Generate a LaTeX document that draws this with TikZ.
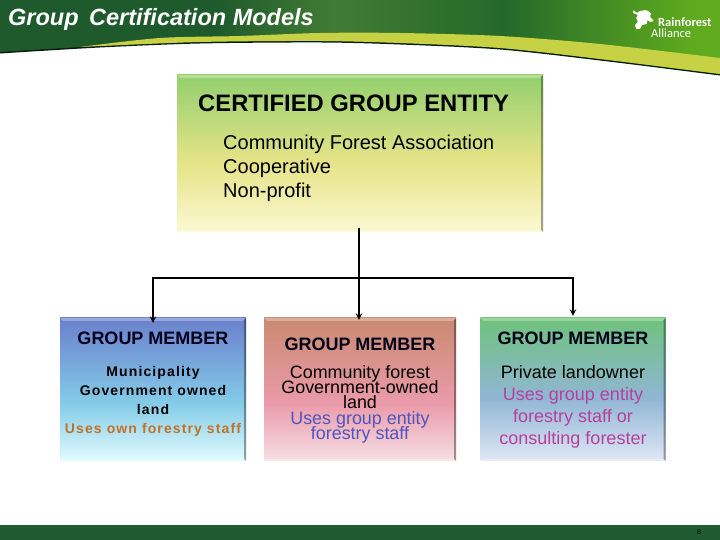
\documentclass[tikz,border=0pt]{standalone}
\usepackage{fontspec}
\setmainfont{Liberation Sans}
\newfontfamily\logofont{Carlito}
\usetikzlibrary{arrows, calc}
\normallineskiplimit=-10pt
\lineskiplimit=-10pt

\definecolor{hdrdark}{HTML}{1F5A2C}
\definecolor{hdrmid}{HTML}{417C34}
\definecolor{hdrdeep}{HTML}{25692A}
\definecolor{hdrlight}{HTML}{5FAA1E}
\definecolor{swoosh}{HTML}{C6D143}
\definecolor{barcol}{HTML}{1F5A30}
\definecolor{entitytop}{HTML}{93CF6E}
\definecolor{entitymid}{HTML}{E6E488}
\definecolor{entitybot}{HTML}{FBF8D2}
\definecolor{bluetop}{HTML}{6A80CC}
\definecolor{bluemid}{HTML}{84CCE8}
\definecolor{bluebot}{HTML}{E2FBFD}
\definecolor{pinktop}{HTML}{C98A70}
\definecolor{pinkmid}{HTML}{EA9BAA}
\definecolor{pinkbot}{HTML}{F6DFE6}
\definecolor{greentop}{HTML}{6EC27C}
\definecolor{greenmid}{HTML}{90B6D4}
\definecolor{greenbot}{HTML}{E0E7F6}
\definecolor{orangetxt}{HTML}{C0722A}
\definecolor{bluetxt}{HTML}{4F55C0}
\definecolor{magentatxt}{HTML}{B8409A}

\pgfdeclarehorizontalshading{bandfill}{100bp}{color(0bp)=(hdrdark); color(40bp)=(hdrdark); color(48bp)=(hdrmid); color(60bp)=(hdrdeep); color(73bp)=(hdrlight); color(100bp)=(hdrlight)}
\pgfdeclareverticalshading{entityfill}{100bp}{color(0bp)=(entitybot); color(25bp)=(entitybot); color(47bp)=(entitymid); color(75bp)=(entitytop); color(100bp)=(entitytop)}
\pgfdeclareverticalshading{bluefill}{100bp}{color(0bp)=(bluebot); color(25bp)=(bluebot); color(45bp)=(bluemid); color(75bp)=(bluetop); color(100bp)=(bluetop)}
\pgfdeclareverticalshading{pinkfill}{100bp}{color(0bp)=(pinkbot); color(25bp)=(pinkbot); color(45bp)=(pinkmid); color(75bp)=(pinktop); color(100bp)=(pinktop)}
\pgfdeclareverticalshading{greenfill}{100bp}{color(0bp)=(greenbot); color(25bp)=(greenbot); color(47bp)=(greenmid); color(75bp)=(greentop); color(100bp)=(greentop)}

\tikzstyle{arrow} = [line width=1.8pt,->,>=stealth]
\tikzstyle{card} = [minimum height=143pt, inner sep=0pt]
\tikzstyle{cardhead} = [font=\fontsize{18}{20}\selectfont\bfseries, inner sep=0pt, text=black!90!blue]
\tikzstyle{cardbody} = [align=center, inner sep=0pt, anchor=north]

\newcommand{\bevelbox}[1]{%
	\fill[white,opacity=.3] (#1.north west) -- (#1.north east) -- ($(#1.north east)+(-3,-3)$) -- ($(#1.north west)+(3,-3)$) -- cycle;
	\fill[black,opacity=.35] (#1.north east) -- (#1.south east) -- ($(#1.south east)+(-2,2)$) -- ($(#1.north east)+(-2,-2)$) -- cycle;
	\fill[white,opacity=.25] (#1.south west) -- (#1.south east) -- ($(#1.south east)+(-2,2)$) -- ($(#1.south west)+(2,2)$) -- cycle;
}

\begin{document}
\begin{tikzpicture}[x=1pt, y=1pt]
	\useasboundingbox (0,0) rectangle (720,540);
	\fill[white] (0,0) rectangle (720,540);

	% header band
	\fill[black!70!hdrdark] (0,540) -- (720,540) -- plot[smooth] coordinates {(720,464.5) (600,479.5) (500,490.5) (400,495.5) (320,497.5) (200,496.5) (100,492.5) (0,486.5)} -- cycle;
	\shade[shading=bandfill] (0,540) -- (720,540) -- plot[smooth] coordinates {(720,466) (600,481) (500,492) (400,497) (320,499) (200,498) (100,494) (0,488)} -- cycle;
	\fill[swoosh] plot[smooth] coordinates {(80,493) (160,502) (240,504) (320,507) (400,507) (500,504) (600,496) (720,482)} -- plot[smooth] coordinates {(720,466) (600,481) (500,492) (400,497) (320,499) (200,498) (80,493)} -- cycle;
	\node[anchor=base west, inner sep=0pt, text=white, font=\fontsize{23.5}{25}\selectfont\bfseries\itshape] (title) at (8,514) {Group\, Certification Models};

	% logo
	\fill[white, rounded corners=.8pt] (633,530) -- (637,527) -- (640,529) -- (646,530) -- (651,527) -- (650,523) -- (654,519) -- (650,518) -- (647,520) -- (647,516) -- (642,515) -- (640,511) -- (636,511) -- (635,515) -- (638,518) -- (636,522) -- (638,525) -- (633,527) -- cycle;
	\node[anchor=west, inner sep=0pt, text=white, font=\fontsize{12.5}{13}\selectfont\logofont\bfseries] (rainforest) at (658,518) {Rainforest};
	\node[anchor=west, inner sep=0pt, text=white, font=\fontsize{12.5}{13}\selectfont\logofont] (alliance) at (651,507) {Alliance};

	% footer
	\fill[barcol] (0,0) rectangle (720,15);
	\node[inner sep=0pt, font=\fontsize{7}{8}\selectfont, text=black!80!barcol] (pageno) at (699,7.5) {8};

	% entity
	\node[shading=entityfill, minimum width=366pt, minimum height=157pt, inner sep=0pt] (entity) at (360,386.5) {};
	\bevelbox{entity}
	\node[anchor=west, inner sep=0pt, font=\fontsize{23.8}{26}\selectfont\bfseries] (entityhead) at (198,437) {CERTIFIED GROUP ENTITY};
	\node[anchor=north west, inner sep=0pt, align=left, font=\fontsize{20}{24}\selectfont] (entitybody) at (223,405) {Community Forest Association\\Cooperative\\Non-profit};

	% members
	\node[card, shading=bluefill, minimum width=186pt] (blue) at (153,150.5) {};
	\node[card, shading=pinkfill, minimum width=192pt] (pink) at (360,150.5) {};
	\node[card, shading=greenfill, minimum width=185pt] (green) at (573,150.5) {};
	\bevelbox{blue}
	\bevelbox{pink}
	\bevelbox{green}

	\node[cardhead] (bluehead) at (153,202) {GROUP MEMBER};
	\node[cardhead] (pinkhead) at (360,196) {GROUP MEMBER};
	\node[cardhead] (greenhead) at (573,202) {GROUP MEMBER};

	\node[cardbody, font=\fontsize{14}{19}\selectfont\bfseries\addfontfeature{LetterSpace=8}] (bluebody) at (153,174) {Municipality\\Government owned\\land\\\textcolor{orangetxt}{Uses own forestry staff}};
	\node[cardbody, font=\fontsize{17.9}{15.3}\selectfont] (pinkbody) at (360,175) {Community forest\\Government-owned\\land\\\textcolor{bluetxt}{Uses group entity}\\\textcolor{bluetxt}{forestry staff}};
	\node[cardbody, font=\fontsize{18}{22}\selectfont] (greenbody) at (573,175) {Private landowner\\\textcolor{magentatxt}{Uses group entity}\\\textcolor{magentatxt}{forestry staff or}\\\textcolor{magentatxt}{consulting forester}};

	% connectors
	\coordinate (bus) at (359,262);
	\draw[line width=1.8pt, shorten <=-4pt] (bus |- entity.south) -- (bus);
	\draw[arrow, shorten >=-5pt] (bus) -| (blue.north);
	\draw[arrow, shorten >=-2pt] (bus) -- (bus |- pink.north);
	\draw[arrow, shorten >=2pt] (bus) -| (green.north);
\end{tikzpicture}
\end{document}
